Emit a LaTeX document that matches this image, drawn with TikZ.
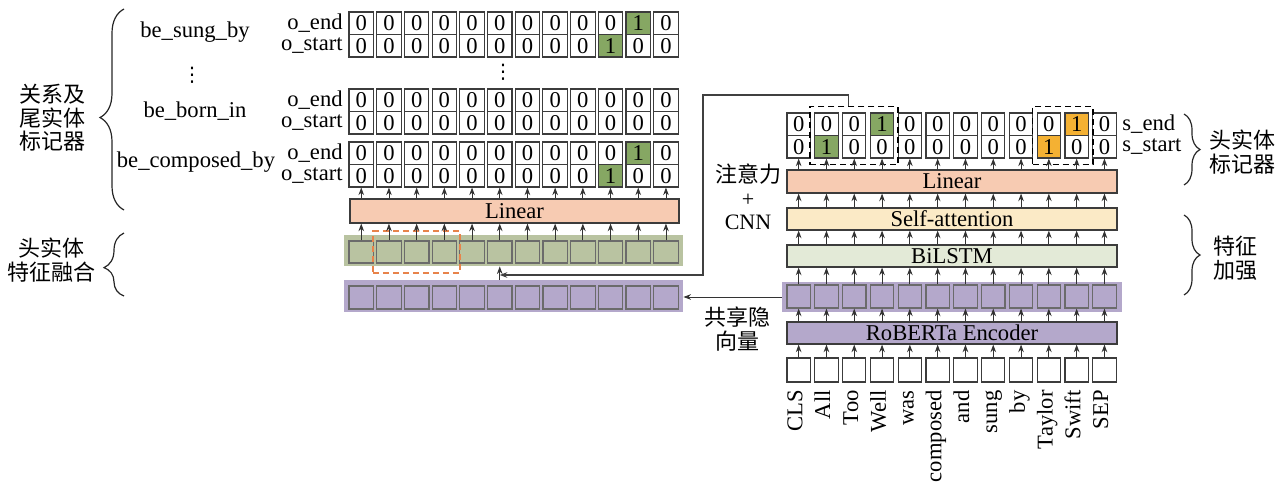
\documentclass[tikz,border=0pt]{standalone}
\usepackage{fontspec}
\setmainfont{Liberation Serif}
\newfontfamily\cjk{Noto Sans CJK SC}
\newfontfamily\dvs{DejaVu Sans}
\usetikzlibrary{arrows.meta,decorations.pathreplacing,fit,calc}
\definecolor{bd}{HTML}{3C3C3C}
\definecolor{cellbd}{HTML}{6B6B6B}
\definecolor{hlg}{HTML}{86A763}
\definecolor{hlo}{HTML}{F4B133}
\definecolor{gbandc}{HTML}{B9C3A1}
\definecolor{pbandc}{HTML}{B4A8CB}
\definecolor{linc}{HTML}{F7CBB2}
\definecolor{sac}{HTML}{FBEAC6}
\definecolor{bic}{HTML}{E3EAD7}
\definecolor{dorange}{HTML}{E8834A}
\tikzset{
 v0/.style={}, vg/.style={fill=hlg}, vo/.style={fill=hlo},
 mcellL/.style={draw=bd, line width=0.55pt, minimum width=12.25pt, minimum height=11.25pt, inner sep=0pt},
 mcellR/.style={draw=bd, line width=0.55pt, minimum width=11.65pt, minimum height=11.25pt, inner sep=0pt},
 gcell/.style={draw=cellbd, line width=0.6pt, fill=gbandc, minimum width=12.25pt, minimum height=11pt, inner sep=0pt},
 plcell/.style={draw=cellbd, line width=0.6pt, fill=pbandc, minimum width=12.25pt, minimum height=11.5pt, inner sep=0pt},
 prcell/.style={draw=cellbd, line width=0.6pt, fill=pbandc, minimum width=11.65pt, minimum height=11.5pt, inner sep=0pt},
 tokcell/.style={draw=bd, line width=0.55pt, fill=white, minimum width=11.65pt, minimum height=12pt, inner sep=0pt},
 band/.style={inner sep=0pt, draw=none},
 layer/.style={draw=bd, line width=0.6pt, inner sep=0pt},
 arr/.style={-{Stealth[length=3.8pt,width=2.8pt]}, draw=black!80, line width=0.45pt},
 conn/.style={draw=black!75, line width=0.55pt},
 brc/.style={decorate, draw=black!85, line width=0.6pt},
 cjkt/.style={font=\cjk\fontsize{11}{11.75}\selectfont, align=center, inner sep=0pt},
 lbl/.style={inner sep=1pt},
 vdt/.style={font=\dvs\fontsize{10}{10}\selectfont, inner sep=0pt},
 dbox/.style={draw=black, line width=0.8pt, dash pattern=on 3pt off 2pt},
}
\newcommand\mrow[6]{%
 \foreach \v [count=\k from 0] in {#6} {
  \node[#2, v\v] (#1\k) at ({#3+#4*\k},#5) {\if0\v 0\else 1\fi};
 }}
\begin{document}
\begin{tikzpicture}[x=0.5pt,y=-0.5pt, font=\fontsize{11.3}{13}\selectfont]
\useasboundingbox (0,0) rectangle (1286,482);

% ---------- left matrices ----------
\mrow{ae}{mcellL}{361.25}{27.7}{23.25}{0,0,0,0,0,0,0,0,0,0,g,0}
\mrow{as}{mcellL}{361.25}{27.7}{45.75}{0,0,0,0,0,0,0,0,0,g,0,0}
\mrow{be}{mcellL}{361.25}{27.7}{100.25}{0,0,0,0,0,0,0,0,0,0,0,0}
\mrow{bs}{mcellL}{361.25}{27.7}{122.75}{0,0,0,0,0,0,0,0,0,0,0,0}
\mrow{ce}{mcellL}{361.25}{27.7}{153.25}{0,0,0,0,0,0,0,0,0,0,g,0}
\mrow{cs}{mcellL}{361.25}{27.7}{175.75}{0,0,0,0,0,0,0,0,0,g,0,0}

\node[lbl, anchor=east] (lae) at (345,23.25) {o\_end};
\node[lbl, anchor=east] (las) at (345,45.75) {o\_start};
\node[lbl, anchor=east] (lbe) at (345,100.25) {o\_end};
\node[lbl, anchor=east] (lbs) at (345,122.75) {o\_start};
\node[lbl, anchor=east] (lce) at (345,153.25) {o\_end};
\node[lbl, anchor=east] (lcs) at (345,175.75) {o\_start};

\node (r1) at (195,32) {be\_sung\_by};
\node[vdt] (rd) at (192,75) {⋮};
\node (r2) at (195,111) {be\_born\_in};
\node (r3) at (196,162) {be\_composed\_by};
\node[vdt] (md) at (503,72) {⋮};

% left linear
\node[layer, fill=linc, minimum width=164.5pt, minimum height=12pt] (llin) at (514.5,211) {Linear};

% green band
\node[band, fill=gbandc, minimum width=169.5pt, minimum height=15.5pt] (gb) at (513.5,250.5) {};
\foreach \k in {0,...,11} \node[gcell] (g\k) at ({361.25+27.7*\k},252) {};
\node[draw=dorange, line width=1pt, dash pattern=on 3pt off 2pt, fit=(g1)(g3), inner xsep=1.5pt, inner ysep=4.5pt] (obox) {};

% left purple band
\node[band, fill=pbandc, minimum width=169.5pt, minimum height=16pt] (pbL) at (513.5,296) {};
\foreach \k in {0,...,11} \node[plcell] (pl\k) at ({361.25+27.7*\k},297.5) {};

% ---------- right side ----------
\mrow{he}{mcellR}{798.65}{27.8}{124.25}{0,0,0,g,0,0,0,0,0,0,o,0}
\mrow{hs}{mcellR}{798.65}{27.8}{146.75}{0,g,0,0,0,0,0,0,0,o,0,0}
\node[lbl, anchor=west] (lse) at (1120,124.25) {s\_end};
\node[lbl, anchor=west] (lss) at (1120,146.75) {s\_start};
\node[dbox, fit=(he1)(hs3), inner xsep=2pt, inner ysep=3pt] (hbox1) {};
\node[dbox, fit=(he9)(hs10), inner xsep=2pt, inner ysep=3pt] (hbox2) {};

\node[layer, fill=linc, minimum width=165pt, minimum height=11.5pt] (rlin) at (952,181.5) {Linear};
\node[layer, fill=sac, minimum width=165pt, minimum height=11pt] (sa) at (952,219) {Self-attention};
\node[layer, fill=bic, minimum width=165pt, minimum height=11pt] (bil) at (952,256) {BiLSTM};
\node[band, fill=pbandc, minimum width=170pt, minimum height=15pt] (pbR) at (952,297) {};
\foreach \k in {0,...,11} \node[prcell] (pr\k) at ({798.65+27.8*\k},296.5) {};
\node[layer, fill=pbandc, minimum width=165pt, minimum height=11pt] (rob) at (952,333) {RoBERTa Encoder};
\foreach \k in {0,...,11} \node[tokcell] (t\k) at ({798.65+27.8*\k},370) {};
\foreach \w [count=\k from 0] in {CLS,All,Too,Well,was,composed,and,sung,by,Taylor,Swift,SEP}
  \node[rotate=90, anchor=base east, inner sep=0pt] (w\k) at ({802.4+27.8*\k},390) {\w};

% ---------- arrows ----------
\foreach \k in {0,...,11} {
  \draw[arr] (g\k.north) -- (g\k.north |- llin.south);
  \draw[arr] (cs\k.south |- llin.north) -- (cs\k.south);
  \draw[arr] (t\k.north) -- (t\k.north |- rob.south);
  \draw[arr] (pr\k.south |- rob.north) -- (pr\k.south);
  \draw[arr] (pr\k.north) -- (pr\k.north |- bil.south);
  \draw[arr] (pr\k.north |- bil.north) -- (pr\k.north |- sa.south);
  \draw[arr] (pr\k.north |- sa.north) -- (pr\k.north |- rlin.south);
  \draw[arr] (hs\k.south |- rlin.north) -- (hs\k.south);
}
\draw[arr] (pbR.west) -- (pbR.west -| pbL.east);
\draw[arr] (pl5 |- pbL.north) -- (pl5 |- gb.south);
\coordinate (k0) at ($(hbox1.north)+(-6,0)$);
\coordinate (k1) at (703,95);
\coordinate (k2) at (703,275);
\draw[conn, -{Stealth[length=3.8pt,width=2.8pt]}] (k0) |- (k1) -- (k2) -- (k2 -| pl5);

% ---------- braces and side texts ----------
\draw[brc, decoration={brace, amplitude=12pt, aspect=0.46}] (124,210) -- (124,9);
\draw[brc, decoration={brace, amplitude=10pt, aspect=0.45}] (124,296) -- (124,233);
\draw[brc, decoration={brace, amplitude=8pt, aspect=0.5}] (1184,114) -- (1184,185);
\draw[brc, decoration={brace, amplitude=8pt, aspect=0.5}] (1184,215) -- (1184,295);

\node[cjkt] (trel) at (52,118) {关系及\\尾实体\\标记器};
\node[cjkt] (thf) at (52,260) {头实体\\特征融合};
\node[cjkt] (thm) at (1242,152) {头实体\\标记器};
\node[cjkt] (tfe) at (1235,258) {特征\\加强};
\node[cjkt] (tatt) at (748,197) {注意力\\{\rmfamily +}\\{\rmfamily CNN}};
\node[cjkt] (tsh) at (737,329) {共享隐\\向量};
\end{tikzpicture}
\end{document}
